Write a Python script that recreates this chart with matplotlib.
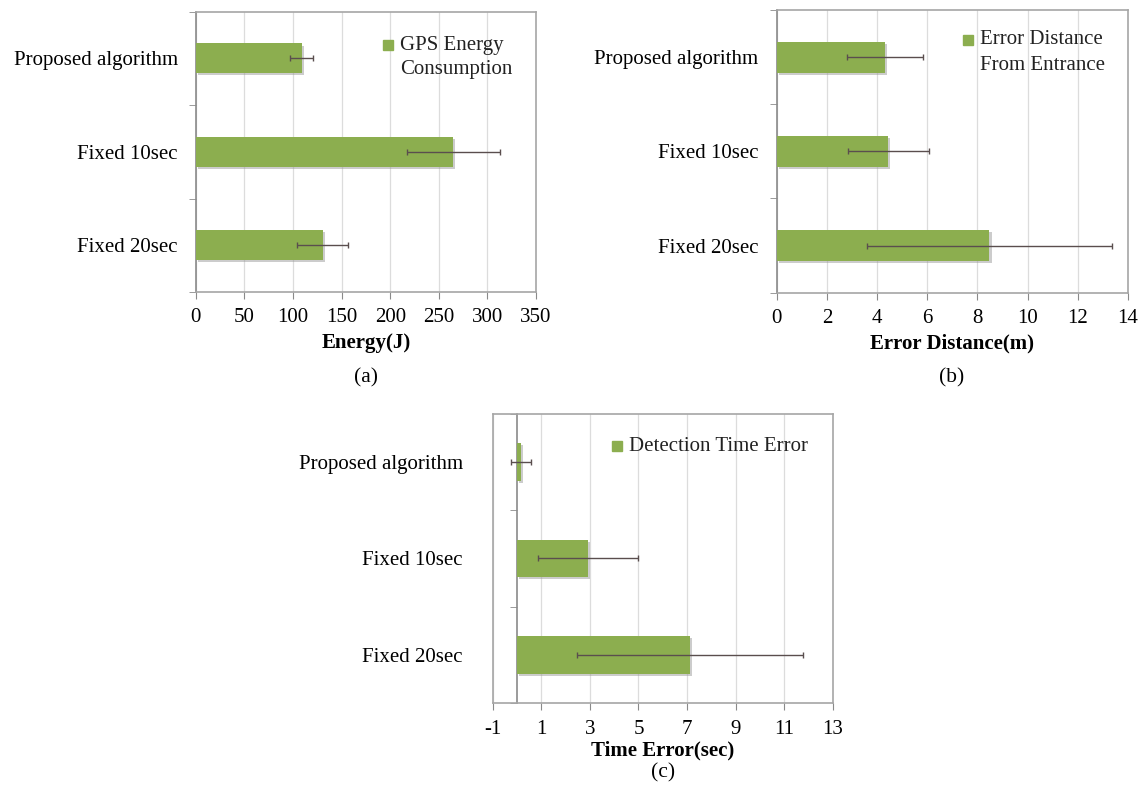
import numpy as np
import matplotlib
matplotlib.use("Agg")
import matplotlib.pyplot as plt
import matplotlib.patheffects as pe

plt.rcParams['font.family'] = ['Liberation Serif', 'DejaVu Serif']
plt.rcParams['font.size'] = 15
plt.rcParams['axes.unicode_minus'] = False

# data
categories = ['Proposed algorithm', 'Fixed 10sec', 'Fixed 20sec']
energy = [109, 265, 130.5]
energy_err = [12, 47.5, 26]
distance = [4.32, 4.45, 8.48]
distance_err = [1.5, 1.62, 4.87]
time_err = [0.17, 2.92, 7.13]
time_err_sd = [0.4, 2.07, 4.64]

bar_color = '#8cae4f'
frame_color = '#a6a6a6'
axis_color = '#8a8a8a'
grid_color = '#dcdcdc'
err_color = '#5a4e4e'

fig = plt.figure(figsize=(11.42, 7.92), dpi=100)

def panel(rect, vals, errs, xmin, xmax, step, xlabel, legend_lines, leg_xy, bar_h,
		cat_axis_at=None, ypad=13, xpad=6.5, labelpad=4.5):
	ax = fig.add_axes(rect)
	y = np.arange(len(categories))
	ax.barh(y, vals, height=bar_h, color=bar_color, zorder=3,
		path_effects=[pe.SimplePatchShadow(offset=(1.5, -1.5), shadow_rgbFace='#9a9a9a', alpha=0.5), pe.Normal()])
	ax.errorbar(vals, y, xerr=errs, fmt='none', ecolor=err_color, elinewidth=1, capsize=2, capthick=1, zorder=4)
	ax.set_ylim(len(categories) - 0.5, -0.5)
	ax.set_xlim(xmin, xmax)
	ax.set_xticks(np.arange(xmin, xmax + step / 2, step))
	ax.set_yticks(y)
	ax.set_yticklabels(categories)
	ax.set_yticks(np.arange(-0.5, len(categories), 1.0), minor=True)
	ax.tick_params(axis='y', which='major', length=0, pad=ypad)
	ax.tick_params(axis='y', which='minor', length=5, color=axis_color, direction='out')
	ax.tick_params(axis='x', length=5, color=axis_color, direction='out', pad=xpad)
	ax.grid(axis='x', color=grid_color, lw=0.9, zorder=0)
	ax.set_axisbelow(True)
	for s in ['top', 'right', 'bottom']:
		ax.spines[s].set_color(frame_color)
		ax.spines[s].set_linewidth(1.2)
	ax.spines['left'].set_color(axis_color)
	ax.spines['left'].set_linewidth(1.2)
	if cat_axis_at is not None:
		ax.spines['left'].set_position(('data', cat_axis_at))
		ax.plot([0, 0], [0, 1], transform=ax.transAxes, color=frame_color, lw=1.2, clip_on=False, zorder=5)
	ax.set_xlabel(xlabel, fontweight='bold', labelpad=labelpad)
	lx, ly = leg_xy
	ax.plot([lx], [ly], marker='s', ms=7, color=bar_color, transform=ax.transAxes, zorder=6)
	for i, line in enumerate(legend_lines):
		ax.text(lx + 0.035, ly - i * 0.089, line, transform=ax.transAxes, va='center', ha='left', color='#222222')
	return ax

ax_a = panel([0.1714, 0.6313, 0.298, 0.354], energy, energy_err, 0, 350, 50, 'Energy(J)',
	['GPS Energy', 'Consumption'], (0.565, 0.881), 0.32)
ax_b = panel([0.6801, 0.6304, 0.3076, 0.357], distance, distance_err, 0, 14, 2, 'Error Distance(m)',
	['Error Distance', 'From Entrance'], (0.5446, 0.894), 0.33)
ax_c = panel([0.4313, 0.1124, 0.2982, 0.3649], time_err, time_err_sd, -1, 13, 2, 'Time Error(sec)',
	['Detection Time Error'], (0.365, 0.889), 0.39, cat_axis_at=0, ypad=39, xpad=7.5, labelpad=0.5)

fig.text(366 / 1142, 1 - 378 / 792, '(a)', ha='center', va='center', fontsize=15.5)
fig.text(952 / 1142, 1 - 378 / 792, '(b)', ha='center', va='center', fontsize=15.5)
fig.text(663 / 1142, 1 - 773 / 792, '(c)', ha='center', va='center', fontsize=15.5)

fig.savefig('out.png', dpi=100)
